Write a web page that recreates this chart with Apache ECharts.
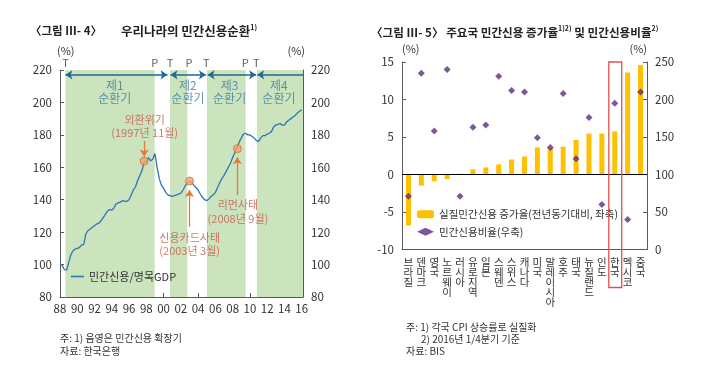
<!DOCTYPE html>
<html><head><meta charset="utf-8">
<script src="https://cdn.jsdelivr.net/npm/echarts@6/dist/echarts.min.js"></script>
<style>html,body{margin:0;padding:0;background:#fff}#c{width:703px;height:383px}</style>
</head><body><div id="c"></div>
<script>
// ---------- Left chart data (그림 III-4) ----------
const creditStartYear = 1988; // quarterly series, first point 1988 Q1
const creditValues = [
  100, 99.5, 97, 96.5,
  101, 106, 108.5, 109.5,
  110, 110.5, 112, 112.5,
  119, 121, 122, 123,
  124, 125, 125.5, 127,
  129, 131, 133, 134,
  133.5, 135, 137.5, 138,
  138.5, 139.5, 139, 139,
  140, 143, 146, 148,
  152, 155, 158, 163.5,
  163.5, 166, 164, 165,
  168.5, 160, 153, 149,
  147, 144.5, 143, 142.5,
  142, 142.5, 143, 143.5,
  144, 146, 148.5, 150.5,
  151.5, 150.5, 149, 147.5,
  146, 143.5, 141.5, 140,
  139.5, 140.5, 142, 143,
  144.5, 147.5, 150.5, 153,
  155, 157.5, 160, 162.5,
  166, 169, 172, 175.5,
  178, 180.5, 181, 180,
  180, 179, 178, 176.5,
  176, 178, 179.5, 179.5,
  180.5, 181, 182, 185,
  186, 186.5, 187, 186,
  186, 188, 189, 190,
  191, 192, 193.5, 194.5,
  195.5
];
const xTickLabels = ['88','90','92','94','96','98','00','02','04','06','08','10','12','14','16'];
const expansionBands = [[1988.63, 1998.97], [2000.74, 2002.75], [2005.02, 2009.5], [2010.81, 2016.15]];
const cycleArrows = [[1988.63, 2000.45], [2000.8, 2004.9], [2005.1, 2010.72], [2010.85, 2016.15]];
const cycleNames = ['제1\n순환기', '제2\n순환기', '제3\n순환기', '제4\n순환기'];
const cycleCenters = [1994.34, 2002.82, 2007.65, 2013.36];
const turnLabels = ['T', 'P', 'T', 'P', 'T', 'P', 'T'];
const turnYears = [1988.63, 1998.97, 2000.74, 2002.95, 2004.95, 2009.46, 2010.75];
const eventNames = ['외환위기\n(1997년 11월)', '신용카드사태\n(2003년 3월)', '리먼사태\n(2008년 9월)'];
const eventYears = [1997.75, 2003.0, 2008.55];
const eventValues = [163.8, 151.5, 171.5];

// ---------- Right chart data (그림 III-5) ----------
const countries = ['브라질','덴마크','영국','노르웨이','러시아','유로지역','일본','스웨덴','스위스','캐나다','미국','말레이시아','호주','태국','뉴질랜드','인도','한국','멕시코','중국'];
const creditGrowth = [-6.8, -1.5, -0.9, -0.6, 0.1, 0.7, 0.95, 1.35, 2.0, 2.4, 3.6, 3.5, 3.7, 4.6, 5.45, 5.45, 5.75, 13.6, 14.6];
const creditRatio = [71, 235, 158, 240, 71, 163, 166, 231, 212, 210, 149, 136, 208, 121, 176, 60, 195, 40, 210];
const highlightCountry = '한국';

const FONT = '"Noto Sans CJK KR", "Noto Sans", sans-serif';
const axisColor = '#595959';
const textColor = '#333';
const eventColor = '#c5584a';
const arrowOrange = '#e07b39';
const cycleColor = '#3a7ca5';

const lineName = '민간신용/명목GDP';
const barName = '실질민간신용 증가율(전년동기대비, 좌축)';
const dotName = '민간신용비율(우축)';

const chart = echarts.init(document.getElementById('c'));

const creditData = creditValues.map((v, i) => [creditStartYear + i * 0.25, v]);

function yAxisBase(extra) {
  return Object.assign({
    type: 'value',
    axisLine: { show: true, lineStyle: { color: axisColor } },
    axisTick: { show: true, inside: true, length: 4, lineStyle: { color: axisColor } },
    axisLabel: { color: textColor, fontSize: 11.5, fontFamily: FONT },
    splitLine: { show: false },
    nameTextStyle: { color: textColor, fontSize: 11, fontFamily: FONT }
  }, extra);
}

const supRich = { s: { fontSize: 7, verticalAlign: 'top', padding: [0, 0, 8, 0], color: '#222', fontFamily: FONT } };

const option = {
  animation: false,
  textStyle: { fontFamily: FONT },
  title: [
    { text: '〈그림 Ⅲ- 4〉', left: 25, top: 20, textStyle: { fontSize: 11.5, fontWeight: 'bold', color: '#222', fontFamily: FONT } },
    { text: '우리나라의 민간신용순환{s|1)}', left: 116, top: 19,
      textStyle: { fontSize: 12.5, fontWeight: 'bold', color: '#222', fontFamily: FONT, rich: supRich } },
    { text: '〈그림 Ⅲ- 5〉 주요국 민간신용 증가율{s|1)2)} 및 민간신용비율{s|2)}', left: 366, top: 20,
      textStyle: { fontSize: 11.6, fontWeight: 'bold', color: '#222', fontFamily: FONT, rich: supRich } },
    { text: '주: 1) 음영은 민간신용 확장기\n자료: 한국은행', left: 55, top: 327,
      textStyle: { fontSize: 10, fontWeight: 'normal', color: textColor, lineHeight: 12.5, fontFamily: FONT } },
    { text: '주: 1) 각국 CPI 상승률로 실질화', left: 401, top: 317,
      textStyle: { fontSize: 10, fontWeight: 'normal', color: textColor, fontFamily: FONT } },
    { text: '2) 2016년 1/4분기 기준', left: 416, top: 329,
      textStyle: { fontSize: 10, fontWeight: 'normal', color: textColor, fontFamily: FONT } },
    { text: '자료: BIS', left: 401, top: 341,
      textStyle: { fontSize: 10, fontWeight: 'normal', color: textColor, fontFamily: FONT } }
  ],
  legend: [
    { data: [{ name: lineName, icon: 'rect' }], left: 71, top: 271, padding: 0, itemWidth: 13, itemHeight: 1.6,
      textStyle: { fontSize: 11, color: textColor, fontFamily: FONT, padding: [0, 0, 0, 0] } },
    { data: [barName, { name: dotName, icon: 'diamond' }], orient: 'vertical', left: 417, top: 209, padding: 0,
      itemWidth: 17, itemHeight: 8, itemGap: 7,
      textStyle: { fontSize: 10.5, color: textColor, fontFamily: FONT } }
  ],
  grid: [
    { left: 60, top: 70, width: 243, height: 227 },
    { left: 402, top: 62, width: 245, height: 187.5 }
  ],
  xAxis: [
    { type: 'value', gridIndex: 0, min: 1988, max: 2016.15, interval: 2,
      axisLine: { lineStyle: { color: axisColor } },
      axisTick: { inside: true, length: 4, lineStyle: { color: axisColor } },
      splitLine: { show: false },
      axisLabel: { color: textColor, fontSize: 11.5, margin: 6, fontFamily: FONT,
        formatter: v => { const i = (v - 1988) / 2; return Number.isInteger(Math.round(i * 1000) / 1000) ? (xTickLabels[Math.round(i)] || '') : ''; } } },
    { type: 'category', gridIndex: 1, data: countries,
      axisLine: { onZero: false, lineStyle: { color: axisColor } },
      axisTick: { inside: true, length: 4, lineStyle: { color: axisColor } },
      axisLabel: { interval: 0, color: textColor, fontSize: 10.5, lineHeight: 9.8, margin: 8, verticalAlign: 'top', fontFamily: FONT,
        formatter: s => s.split('').join('\n') } }
  ],
  yAxis: [
    yAxisBase({ gridIndex: 0, position: 'left', min: 80, max: 220, interval: 20,
      name: '(%)', nameGap: 14, nameTextStyle: { color: textColor, fontSize: 11, align: 'left', padding: [0, 0, 0, -3] } }),
    yAxisBase({ gridIndex: 0, position: 'right', min: 80, max: 220, interval: 20,
      name: '(%)', nameGap: 14, nameTextStyle: { color: textColor, fontSize: 11, align: 'right', padding: [0, -2, 0, 0] } }),
    yAxisBase({ gridIndex: 1, position: 'left', min: -10, max: 15, interval: 5,
      name: '(%)', nameGap: 8, nameTextStyle: { color: textColor, fontSize: 11, align: 'left', padding: [0, 0, 0, 0] } }),
    yAxisBase({ gridIndex: 1, position: 'right', min: 0, max: 250, interval: 50,
      name: '(%)', nameGap: 8, nameTextStyle: { color: textColor, fontSize: 11, align: 'right', padding: [0, 0, 0, 0] } })
  ],
  series: [
    { name: lineName, type: 'line', xAxisIndex: 0, yAxisIndex: 0, data: creditData,
      symbol: 'none', showSymbol: false, z: 3,
      lineStyle: { color: '#2e75b6', width: 1.3 }, itemStyle: { color: '#2e75b6' },
      markArea: { silent: true, itemStyle: { color: '#cbe4bd' },
        data: expansionBands.map(b => [{ xAxis: b[0] }, { xAxis: b[1] }]) } },
    { type: 'scatter', xAxisIndex: 0, yAxisIndex: 0, z: 5,
      data: eventYears.map((y, i) => [y, eventValues[i]]),
      symbol: 'circle', symbolSize: 8,
      itemStyle: { color: '#f4a46a', borderColor: '#d5702a', borderWidth: 1 },
      markLine: { silent: true, symbol: ['none', 'arrow'], symbolSize: 7, label: { show: false },
        lineStyle: { color: arrowOrange, width: 1.3, type: 'solid' },
        data: [
          [{ coord: [eventYears[0], 176.2] }, { coord: [eventYears[0], 166.6] }],
          [{ coord: [eventYears[1], 123.4] }, { coord: [eventYears[1], 146.0] }],
          [{ coord: [eventYears[2], 142.9] }, { coord: [eventYears[2], 166.2] }]
        ] } },
    { type: 'scatter', xAxisIndex: 0, yAxisIndex: 0, z: 4, symbolSize: 0,
      data: cycleCenters.map(x => [x, 206.6]),
      label: { show: true, position: 'inside', color: cycleColor, fontSize: 12, lineHeight: 13.5, fontFamily: FONT,
        formatter: p => cycleNames[p.dataIndex] },
      markLine: { silent: true, symbolSize: 7, label: { show: false },
        lineStyle: { color: '#1d6a96', width: 1.5, type: 'solid' },
        data: cycleArrows.map((a, i) => [
          { coord: [a[0], 217], symbol: 'arrow' },
          { coord: [a[1], 217], symbol: i === cycleArrows.length - 1 ? 'none' : 'arrow' }
        ]) } },
    { type: 'scatter', xAxisIndex: 0, yAxisIndex: 0, z: 4, symbolSize: 0, clip: false,
      data: turnYears.map(x => [x, 224.6]),
      label: { show: true, position: 'inside', color: textColor, fontSize: 11, fontFamily: FONT,
        formatter: p => turnLabels[p.dataIndex] } },
    { type: 'scatter', xAxisIndex: 0, yAxisIndex: 0, z: 4, symbolSize: 0,
      data: [[1997.81, 185.3], [2003.02, 112.5], [2008.61, 132.5]],
      label: { show: true, position: 'inside', color: eventColor, fontSize: 11, lineHeight: 13.5, fontFamily: FONT,
        formatter: p => eventNames[p.dataIndex] } },
    { name: barName, type: 'bar', xAxisIndex: 1, yAxisIndex: 2, data: creditGrowth,
      barWidth: 5, itemStyle: { color: '#ffc000' }, z: 2,
      markLine: { silent: true, symbol: 'none', label: { show: false },
        lineStyle: { color: '#000', width: 1, type: 'solid' }, data: [{ yAxis: 0 }] } },
    { name: dotName, type: 'scatter', xAxisIndex: 1, yAxisIndex: 3, data: creditRatio,
      symbol: 'diamond', symbolSize: 7, itemStyle: { color: '#5c2d82' }, z: 4 }
  ]
};

chart.setOption(option);

// red highlight box around the highlighted country, positioned through the axes
const cx = chart.convertToPixel({ xAxisIndex: 1 }, highlightCountry);
const c0 = chart.convertToPixel({ xAxisIndex: 1 }, countries[0]);
const c1 = chart.convertToPixel({ xAxisIndex: 1 }, countries[1]);
const band = c1 - c0;
const yTop = chart.convertToPixel({ yAxisIndex: 2 }, 15);
const yBot = chart.convertToPixel({ yAxisIndex: 2 }, -10);
chart.setOption({
  graphic: [{
    type: 'rect', z: 10, silent: true,
    shape: { x: cx - band / 2 + 0.5, y: yTop, width: band, height: (yBot - yTop) + 38 },
    style: { fill: 'none', stroke: '#e05050', lineWidth: 1.3 }
  }]
});
</script>
</body></html>
